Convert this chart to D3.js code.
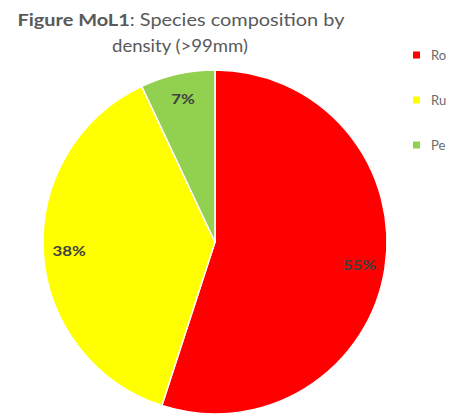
<!DOCTYPE html>
<html>
<head>
<meta charset="utf-8">
<script src="https://cdn.jsdelivr.net/npm/d3@7"></script>
<style>
  html, body { margin: 0; padding: 0; background: #fff; }
  svg { display: block; }
</style>
</head>
<body>
<script>
// Species composition by density (>99mm)
const species = ["Ro", "Ru", "Pe"];
const shares = [55, 38, 7];
const colors = ["#FF0000", "#FFFF00", "#92D050"];

const width = 467, height = 419;
const cx = 215, cy = 242, radius = 172;
const font = "Lato, 'Open Sans', sans-serif";

const svg = d3.select("body").append("svg")
  .attr("width", width)
  .attr("height", height);

const data = species.map((s, i) => ({ name: s, value: shares[i], color: colors[i] }));

const pie = d3.pie().sort(null).value(d => d.value);
const arc = d3.arc().innerRadius(0).outerRadius(radius);
const labelArc = d3.arc().innerRadius(radius * 0.85).outerRadius(radius * 0.85);

const g = svg.append("g").attr("transform", `translate(${cx},${cy})`);
const arcs = pie(data);

g.selectAll("path")
  .data(arcs)
  .join("path")
  .attr("d", arc)
  .attr("fill", d => d.data.color)
  .attr("stroke", "#fff")
  .attr("stroke-width", 1.5);

// Percentage labels, widened a little like the rest of the lettering
g.selectAll("text.pct")
  .data(arcs)
  .join("text")
  .attr("class", "pct")
  .attr("transform", d => `translate(${labelArc.centroid(d)}) scale(1.3,1)`)
  .attr("text-anchor", "middle")
  .attr("dominant-baseline", "central")
  .attr("font-family", font)
  .attr("font-weight", "bold")
  .attr("font-size", 13)
  .attr("fill", "#404040")
  .text(d => d.data.value + "%");

// Title (two centred lines)
const title = svg.append("text")
  .attr("x", 181)
  .attr("y", 26)
  .attr("text-anchor", "middle")
  .attr("font-family", font)
  .attr("font-size", 17)
  .attr("fill", "#595959")
  .attr("textLength", 327)
  .attr("lengthAdjust", "spacingAndGlyphs");
title.append("tspan").attr("font-weight", "bold").text("Figure MoL1");
title.append("tspan").text(": Species composition by");
svg.append("text")
  .attr("x", 180)
  .attr("y", 52)
  .attr("text-anchor", "middle")
  .attr("font-family", font)
  .attr("font-size", 17)
  .attr("fill", "#595959")
  .attr("textLength", 136)
  .attr("lengthAdjust", "spacingAndGlyphs")
  .text("density (>99mm)");

// Legend
const legend = svg.append("g").attr("transform", "translate(413,55)");
const item = legend.selectAll("g")
  .data(data)
  .join("g")
  .attr("transform", (d, i) => `translate(0,${i * 45})`);
item.append("rect")
  .attr("x", 0).attr("y", -3.5)
  .attr("width", 7).attr("height", 7)
  .attr("fill", d => d.color);
item.append("text")
  .attr("x", 18)
  .attr("dominant-baseline", "central")
  .attr("font-family", font)
  .attr("font-size", 13)
  .attr("fill", "#6a6a6a")
  .text(d => d.name);
</script>
</body>
</html>
